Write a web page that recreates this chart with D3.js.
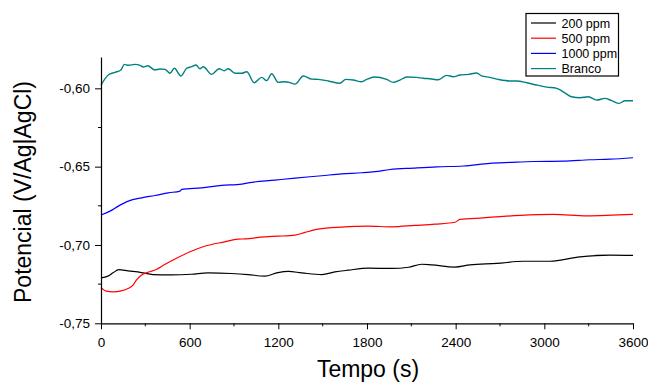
<!DOCTYPE html><html lang="pt"><head><meta charset="utf-8">
<title>Potencial x Tempo</title>
<script src="https://cdn.jsdelivr.net/npm/d3@7"></script>
<style>
body {
	margin: 0;
	background: #fff;
}
text {
	font-family: "Liberation Sans", Arial, sans-serif;
	fill: #000;
}
</style>
</head>
<body>
<div id="chart"></div>
<script>
// series names (legend order)
const names = ["200 ppm", "500 ppm", "1000 ppm", "Branco"];
const colors = ["#000000", "#ff0000", "#0000ff", "#008080"];

// 200 ppm
const t200 = [0, 47, 81, 120, 183, 273, 352, 476, 611, 724, 882, 995, 1108, 1198, 1267, 1358, 1494, 1583, 1673, 1809, 1967, 2080, 2170, 2238, 2395, 2497, 2678, 2858, 3038, 3241, 3444, 3600];
const v200 = [-0.7210, -0.7199, -0.7178, -0.7157, -0.7165, -0.7176, -0.7189, -0.7191, -0.7187, -0.7178, -0.7182, -0.7189, -0.7199, -0.7176, -0.7169, -0.7178, -0.7189, -0.7172, -0.7161, -0.7148, -0.7150, -0.7142, -0.7123, -0.7127, -0.7141, -0.7127, -0.7118, -0.7104, -0.7104, -0.7076, -0.7065, -0.7067];

// 500 ppm
const t500 = [0, 36, 81, 137, 183, 217, 239, 273, 318, 374, 431, 521, 611, 701, 837, 927, 972, 1108, 1198, 1313, 1380, 1470, 1629, 1809, 1967, 2125, 2260, 2395, 2429, 2587, 2835, 3061, 3287, 3600];
const v500 = [-0.7272, -0.7295, -0.7300, -0.7293, -0.7278, -0.7257, -0.7225, -0.7193, -0.7174, -0.7157, -0.7125, -0.7080, -0.7040, -0.7008, -0.6980, -0.6963, -0.6961, -0.6948, -0.6944, -0.6937, -0.6920, -0.6899, -0.6886, -0.6880, -0.6884, -0.6875, -0.6867, -0.6855, -0.6837, -0.6827, -0.6811, -0.6805, -0.6814, -0.6805];

// 1000 ppm
const t1000 = [0, 61, 117, 185, 275, 365, 455, 535, 546, 681, 817, 952, 997, 1177, 1313, 1494, 1629, 1764, 1854, 1956, 2113, 2272, 2452, 2632, 2768, 2925, 3128, 3309, 3444, 3600];
const v1000 = [-0.6809, -0.6784, -0.6752, -0.6720, -0.6699, -0.6684, -0.6667, -0.6656, -0.6645, -0.6635, -0.6620, -0.6611, -0.6603, -0.6586, -0.6573, -0.6558, -0.6546, -0.6539, -0.6532, -0.6518, -0.6509, -0.6501, -0.6496, -0.6479, -0.6473, -0.6467, -0.6465, -0.6456, -0.6452, -0.6443];

// Branco
const tBranco = [0, 49, 95, 135, 158, 185, 230, 264, 286, 316, 365, 399, 433, 467, 496, 541, 580, 614, 643, 670, 692, 749, 799, 834, 861, 907, 952, 986, 1037, 1087, 1121, 1155, 1200, 1245, 1272, 1313, 1369, 1426, 1470, 1538, 1617, 1656, 1707, 1764, 1798, 1849, 1933, 1978, 2023, 2069, 2136, 2181, 2226, 2283, 2339, 2384, 2429, 2486, 2542, 2576, 2632, 2689, 2768, 2813, 2881, 2948, 3016, 3084, 3128, 3185, 3241, 3298, 3354, 3410, 3456, 3507, 3546, 3600];
const vBranco = [-0.5979, -0.5915, -0.5898, -0.5883, -0.5847, -0.5853, -0.5847, -0.5853, -0.5864, -0.5856, -0.5883, -0.5877, -0.5879, -0.5904, -0.5872, -0.5921, -0.5872, -0.5862, -0.5851, -0.5875, -0.5862, -0.5911, -0.5875, -0.5888, -0.5875, -0.5904, -0.5904, -0.5894, -0.5964, -0.5930, -0.5951, -0.5907, -0.5962, -0.5958, -0.5962, -0.5973, -0.5921, -0.5941, -0.5943, -0.5953, -0.5968, -0.5943, -0.5947, -0.5958, -0.5943, -0.5928, -0.5943, -0.5962, -0.5947, -0.5928, -0.5930, -0.5936, -0.5939, -0.5945, -0.5917, -0.5926, -0.5915, -0.5911, -0.5902, -0.5921, -0.5930, -0.5943, -0.5953, -0.5953, -0.5964, -0.5979, -0.5992, -0.6000, -0.6022, -0.6054, -0.6060, -0.6054, -0.6075, -0.6064, -0.6079, -0.6096, -0.6079, -0.6079];

// ticks
const xTicks = [0, 600, 1200, 1800, 2400, 3000, 3600];
const xMinor = [300, 900, 1500, 2100, 2700, 3300];
const yTicks = [-0.75, -0.70, -0.65, -0.60];
const yMinor = [-0.725, -0.675, -0.625];

const series = [
	{ name: names[0], color: colors[0], t: t200, v: v200 },
	{ name: names[1], color: colors[1], t: t500, v: v500 },
	{ name: names[2], color: colors[2], t: t1000, v: v1000 },
	{ name: names[3], color: colors[3], t: tBranco, v: vBranco },
];

// set the dimensions and margins of the graph
const margin = { top: 57, right: 15, bottom: 59.7, left: 101 };
const width = 648 - margin.left - margin.right;
const height = 383 - margin.top - margin.bottom;

const root = d3.select("#chart")
	.append("svg")
		.attr("width", 648)
		.attr("height", 383);
const svg = root.append("g")
	.attr("transform", `translate(${margin.left}, ${margin.top})`);

const x = d3.scaleLinear().domain([0, 3600]).range([0, width]);
const y = d3.scaleLinear().domain([-0.75, -0.58]).range([height, 0]);

// lines
const line = d3.line()
	.x(d => x(d[0]))
	.y(d => y(d[1]))
	.curve(d3.curveMonotoneX);
series.forEach((s, i) => {
	svg.append("path")
		.datum(s.t.map((t, j) => [t, s.v[j]]))
		.attr("fill", "none")
		.attr("stroke", s.color)
		.attr("stroke-width", i == 3 ? 1.4 : 1.2)
		.attr("d", line);
});

const fmt = d => d.toFixed(2).replace(".", ",");

// Add X axis
const gx = svg.append("g")
	.attr("transform", `translate(0, ${height})`)
	.call(d3.axisBottom(x).tickValues(xTicks).tickSize(6).tickSizeOuter(0).tickPadding(8).tickFormat(d3.format("d")));
gx.append("g").selectAll("line").data(xMinor).join("line")
	.attr("x1", d => x(d)).attr("x2", d => x(d))
	.attr("y1", 0).attr("y2", 3)
	.attr("stroke", "#000");

// Add Y axis
const gy = svg.append("g")
	.call(d3.axisLeft(y).tickValues(yTicks).tickSize(6).tickSizeOuter(0).tickPadding(5).tickFormat(fmt));
gy.append("g").selectAll("line").data(yMinor).join("line")
	.attr("y1", d => y(d)).attr("y2", d => y(d))
	.attr("x1", 0).attr("x2", -3)
	.attr("stroke", "#000");

[gx, gy].forEach(g => {
	g.selectAll("text").style("font-size", "13.5px").attr("fill", "#000");
	g.selectAll("line").attr("stroke", "#000");
	g.select(".domain").attr("stroke", "#000").attr("stroke-width", 1.2);
});

// axis titles
root.append("text")
	.attr("x", 368)
	.attr("y", 377)
	.attr("text-anchor", "middle")
	.style("font-size", "23px")
	.text("Tempo (s)");
root.append("text")
	.attr("transform", "translate(31, 192) rotate(-90)")
	.attr("text-anchor", "middle")
	.style("font-size", "23px")
	.text("Potencial (V/Ag|AgCl)");

// legend
const lg = root.append("g").attr("transform", "translate(526, 13.5)");
lg.append("rect")
	.attr("width", 92.5)
	.attr("height", 62.5)
	.attr("fill", "#fff")
	.attr("stroke", "#000")
	.attr("stroke-width", 1.2);
series.forEach((s, i) => {
	const yy = 9.5 + i * 15.2;
	lg.append("line")
		.attr("x1", 5).attr("x2", 30)
		.attr("y1", yy).attr("y2", yy)
		.attr("stroke", s.color)
		.attr("stroke-width", 1.2);
	lg.append("text")
		.attr("x", 35.5)
		.attr("y", yy + 4.5)
		.style("font-size", "12.5px")
		.text(s.name);
});
</script>
</body>
</html>
